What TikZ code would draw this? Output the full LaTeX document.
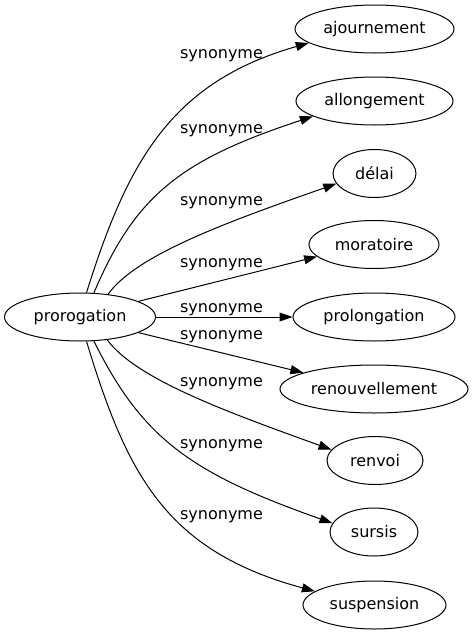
\documentclass[tikz,border=0pt]{standalone}
\usepackage{fontspec}
\setmainfont{DejaVu Sans}
\usetikzlibrary{shapes.geometric,arrows.meta}
\begin{document}
\begin{tikzpicture}[x=1pt,y=-1pt,
  word/.style={ellipse,draw,line width=1pt,inner sep=0pt,minimum height=48pt,font=\fontsize{16}{19}\selectfont},
  rel/.style={line width=1pt,-{Triangle[length=13pt,width=9pt]}},
  lab/.style={anchor=base,inner sep=0pt,font=\fontsize{16}{19}\selectfont}]
\useasboundingbox (0,0) rectangle (475,635);
\node[word,minimum width=151pt] (p) at (80,317) {prorogation};
\node[word,minimum width=159pt] (t1) at (374.5,29) {ajournement};
\node[word,minimum width=157pt] (t2) at (374.5,101) {allongement};
\node[word,minimum width=83pt] (t3) at (374.5,173.5) {délai};
\node[word,minimum width=130pt] (t4) at (374,244.5) {moratoire};
\node[word,minimum width=162pt] (t5) at (374,317) {prolongation};
\node[word,minimum width=188pt] (t6) at (374,389) {renouvellement};
\node[word,minimum width=96pt] (t7) at (375,460.5) {renvoi};
\node[word,minimum width=88pt] (t8) at (374,532) {sursis};
\node[word,minimum width=143pt] (t9) at (374.5,605) {suspension};
\draw[rel] (p.75.4) .. controls (128,160) and (172,82) .. (t1.192.4);
\draw[rel] (p.60.5) .. controls (135,196) and (180,160) .. (t2.194.8);
\draw[rel] (p.39) .. controls (136,255) and (227,222) .. (t3.195.5);
\draw[rel] (p.15.7) -- (t4.192);
\draw[rel] (p.0) -- (t5.180);
\draw[rel] (p.-15.7) -- (t6.167.6);
\draw[rel] (p.-40) .. controls (136,379) and (227,412) .. (t7.166.9);
\draw[rel] (p.-60.5) .. controls (142,438) and (190,473) .. (t8.168.2);
\draw[rel] (p.-75.4) .. controls (127,475) and (166,551) .. (t9.167.6);
\node[lab] (l1) at (221.5,58) {synonyme};
\node[lab] (l2) at (221.5,133) {synonyme};
\node[lab] (l3) at (221.5,205) {synonyme};
\node[lab] (l4) at (221.5,267) {synonyme};
\node[lab] (l5) at (221.5,312) {synonyme};
\node[lab] (l6) at (221.5,339) {synonyme};
\node[lab] (l7) at (221.5,386) {synonyme};
\node[lab] (l8) at (221.5,448) {synonyme};
\node[lab] (l9) at (221.5,519) {synonyme};
\end{tikzpicture}
\end{document}
